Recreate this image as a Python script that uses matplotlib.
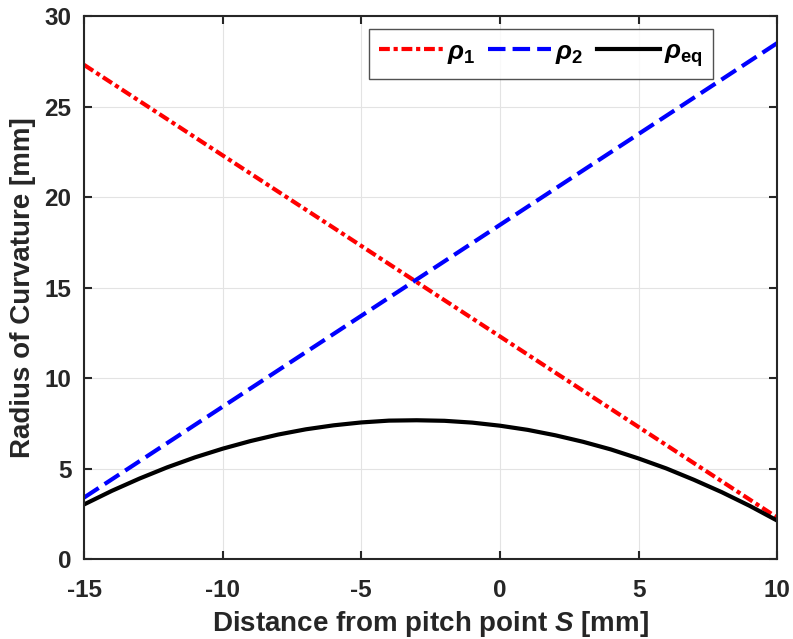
import numpy as np
import matplotlib.pyplot as plt

plt.rcParams["font.family"] = ["Liberation Sans", "DejaVu Sans"]
plt.rcParams["font.weight"] = "bold"
plt.rcParams["axes.unicode_minus"] = False
plt.rcParams["mathtext.fontset"] = "custom"
plt.rcParams["mathtext.rm"] = "Liberation Sans:bold"
plt.rcParams["mathtext.bf"] = "Liberation Sans:bold"
plt.rcParams["mathtext.it"] = "Liberation Sans:bold:italic"

# distance from pitch point [mm]
s = [-15, -14, -13, -12, -11, -10, -9, -8, -7, -6, -5, -4, -3,
     -2, -1, 0, 1, 2, 3, 4, 5, 6, 7, 8, 9, 10]
s_lin = [-15, 10]
rho1 = [27.3, 2.3]
rho2 = [3.4, 28.5]
rho_eq = [3.02, 3.77, 4.45, 5.07, 5.62, 6.10, 6.52, 6.88, 7.17, 7.39, 7.55,
          7.65, 7.67, 7.64, 7.54, 7.37, 7.14, 6.84, 6.48, 6.06, 5.56, 5.01,
          4.38, 3.70, 2.95, 2.13]

dark = "#262626"

fig = plt.figure(figsize=(7.93, 6.39), dpi=100)
ax = fig.add_axes([0.106, 0.125, 0.874, 0.850])

ax.plot(s_lin, rho1, color="red", lw=3, dashes=(2.6, 0.9, 1.0, 0.9),
        label=r"$\rho_\mathrm{1}$")
ax.plot(s_lin, rho2, color="blue", lw=3, dashes=(4.2, 1.7),
        label=r"$\rho_\mathrm{2}$")
ax.plot(s, rho_eq, "-", color="black", lw=3, label=r"$\rho_\mathrm{eq}$")

ax.set_xlim(-15, 10)
ax.set_ylim(0, 30)
ax.set_xticks([-15, -10, -5, 0, 5, 10])
ax.set_yticks([0, 5, 10, 15, 20, 25, 30])
ax.grid(True, color="#e3e3e3", lw=0.8)
ax.tick_params(direction="in", top=True, right=True, length=6, width=1.5,
               colors=dark, labelsize=17.5)
ax.tick_params(axis="x", pad=14)
ax.tick_params(axis="y", pad=9)
for sp in ax.spines.values():
    sp.set_linewidth(1.5)
    sp.set_color(dark)

ax.set_xlabel(r"Distance from pitch point $S$ [mm]", fontsize=20,
              fontweight="bold", color=dark, labelpad=5)
ax.set_ylabel("Radius of Curvature [mm]", fontsize=20, fontweight="bold",
              color=dark, labelpad=6)

leg = ax.legend(loc="upper right", bbox_to_anchor=(0.908, 0.976), ncol=3,
                fontsize=19, frameon=True, fancybox=False, edgecolor=dark,
                handlelength=2.4, handletextpad=0.15, columnspacing=0.5,
                borderpad=0.4, borderaxespad=0)
leg.get_frame().set_linewidth(1.0)

fig.savefig("out.png", dpi=100)
